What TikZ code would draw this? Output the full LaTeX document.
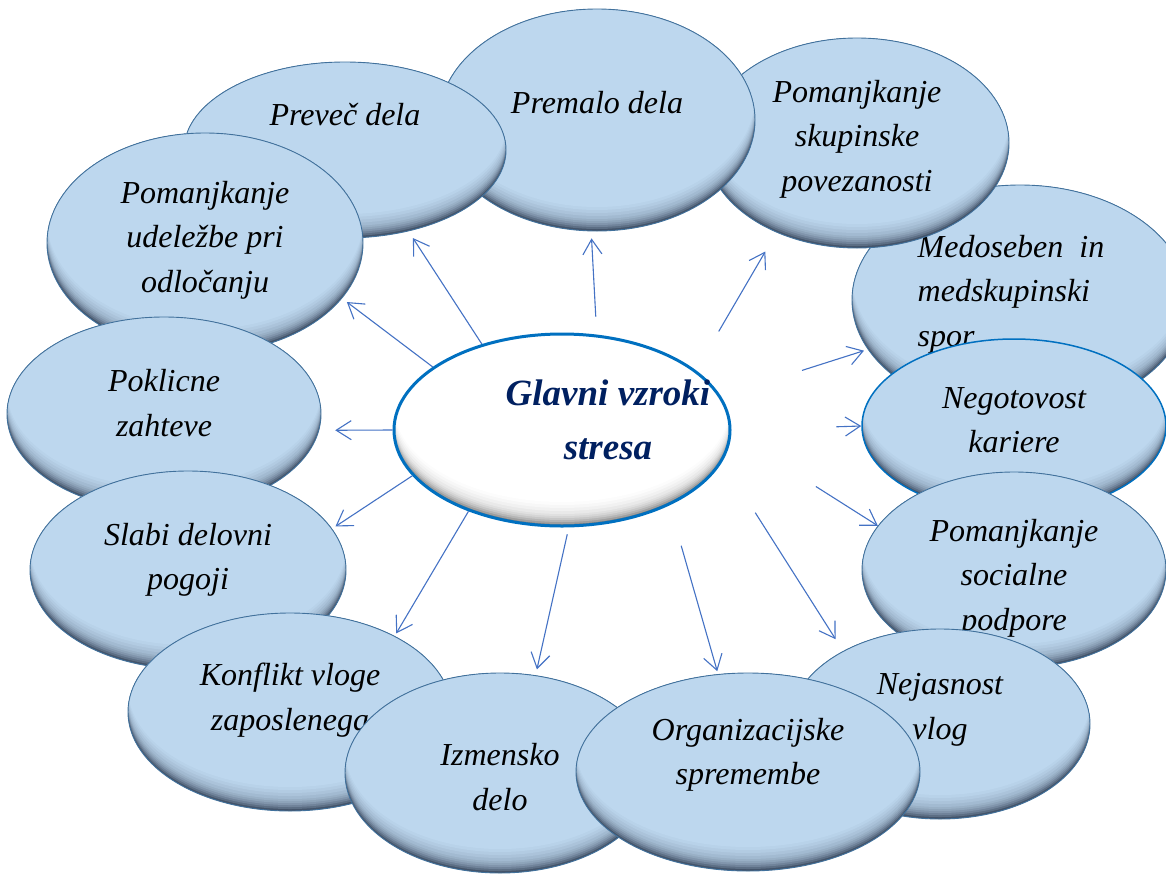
\documentclass[tikz,border=0pt]{standalone}
\usepackage{fontspec}
\setmainfont{Liberation Serif}
\usetikzlibrary{shapes.geometric,arrows.meta}
\definecolor{cellfill}{HTML}{BDD7EE}
\definecolor{cellline}{HTML}{41719C}
\definecolor{shadowcol}{HTML}{44546A}
\definecolor{hubline}{HTML}{0070C0}
\definecolor{hubtext}{HTML}{002060}
\definecolor{hubshadow}{HTML}{7F7F7F}
\definecolor{arrowcol}{HTML}{4472C4}
\newcommand{\causefont}{\fontsize{32}{44.5}\selectfont\itshape}
\newcommand{\hubfont}{\fontsize{37}{54}\selectfont\bfseries\itshape}
\tikzset{
  cause/.style 2 args={ellipse, draw=cellline, line width=0.9pt, fill=shadowcol,
    minimum width=#1, minimum height=#2,
    path picture={\foreach \s/\m in {2/20,4/36,6/50,8/61,10/70,12/78,15/85,18/91,21/96,24/100}
      \fill[cellfill!\m!shadowcol] ([yshift=\s pt]path picture bounding box.center)
        ellipse [x radius=#1/2, y radius=#2/2];}},
  causetext/.style={font=\causefont, align=center, inner sep=0pt},
  hub/.style 2 args={ellipse, draw=hubline, line width=3pt, fill=hubshadow,
    minimum width=#1, minimum height=#2,
    path picture={\foreach \s/\m in {2/25,4/42,6/56,8/67,10/76,12/83,15/89,18/94,21/98,24/100}
      \fill[white!\m!hubshadow] ([yshift=\s pt]path picture bounding box.center)
        ellipse [x radius=#1/2, y radius=#2/2];}},
  arr/.style={arrowcol, line width=1.1pt, -{Straight Barb[length=15pt,width=19pt]}}
}
\begin{document}
\begin{tikzpicture}[x=1pt,y=-1pt]
\useasboundingbox (0,0) rectangle (1166,873);
% Vzroki (spodnji najprej)
\node[cause={336}{230}, label={[causetext, align=left, xshift=-9pt, yshift=6pt]center:{Medoseben\ \ in\\medskupinski\\spor}}] (medoseben) at (1020,300) {};
\node[cause={304}{210}, label={[causetext, yshift=4pt]center:{Pomanjkanje\\skupinske\\povezanosti}}] (skupinske) at (857,143) {};
\node[cause={316}{222}, label={[causetext, yshift=17pt]center:{Premalo dela}}] (premalo) at (597,120) {};
\node[cause={322}{176}, label={[causetext, yshift=35pt]center:{Preveč dela}}] (prevec) at (345,150) {};
\node[cause={316}{220}, label={[causetext, yshift=3pt]center:{Pomanjkanje\\udeležbe pri\\odločanju}}] (udelezbe) at (205,243) {};
\node[cause={314}{194}, label={[causetext, yshift=11pt]center:{Poklicne\\zahteve}}] (poklicne) at (164,414) {};
\node[cause={316}{198}, label={[causetext, yshift=10pt]center:{Slabi delovni\\pogoji}}] (slabi) at (188,570) {};
\node[cause={324}{198}, label={[causetext, yshift=12pt]center:{Konflikt vloge\\zaposlenega}}] (konflikt) at (290,712) {};
\node[cause={310}{200}, label={[causetext, yshift=-4pt]center:{Izmensko\\delo}}] (izmensko) at (500,773) {};
\node[cause={304}{174}, draw=hubline, line width=1.5pt, label={[causetext, yshift=6pt]center:{Negotovost\\kariere}}] (negotovost) at (1014,426) {};
\node[cause={304}{196}, label={[causetext, yshift=-8pt]center:{Pomanjkanje\\socialne\\podpore}}] (socialne) at (1014,570) {};
\node[cause={300}{190}, label={[causetext, yshift=14pt]center:{Nejasnost\\vlog}}] (nejasnost) at (940,724) {};
\node[cause={344}{198}, label={[causetext, yshift=17pt]center:{Organizacijske\\spremembe}}] (organizacijske) at (748,772) {};
% Sredina
\node[hub={336}{192}, label={[font=\hubfont, text=hubtext, align=center, xshift=46pt, yshift=10pt]center:{Glavni vzroki\\stresa}}] (glavni) at (562,430) {};
% Puscice
\foreach \a/\s/\n/\b/\e in {133/0/prevec/-52/8, 70/18/premalo/-93/7, 24/45/skupinske/-132/22,
  12/85/medoseben/-162/4, 0/105/negotovost/180/0, -1/100/socialne/162/0,
  -11/61/nejasnost/143/14, -35/42/organizacijske/107/3, -86/7/izmensko/70/6,
  -139/0/konflikt/36/3, -163/0/slabi/16/4, 180/0/poklicne/-6/16, 154/0/udelezbe/-22/6}
  \draw[arr, shorten <=\s pt, shorten >=\e pt] (glavni.\a) -- (\n.\b);
\end{tikzpicture}
\end{document}
